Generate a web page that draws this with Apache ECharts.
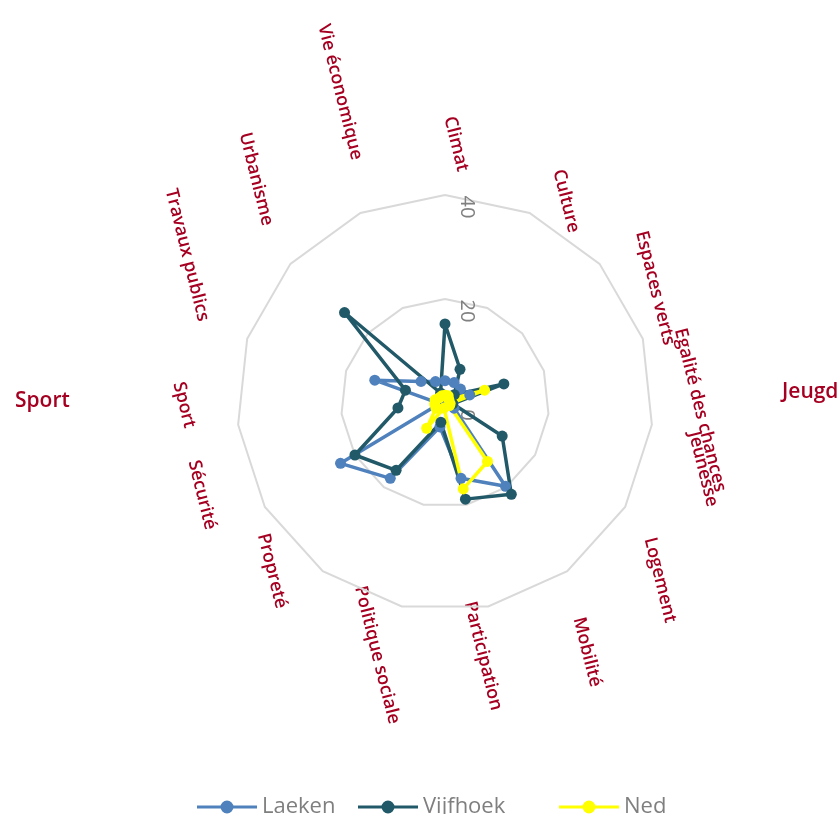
<!DOCTYPE html>
<html>
<head>
<meta charset="utf-8">
<script src="https://cdn.jsdelivr.net/npm/echarts@6/dist/echarts.min.js"></script>
<style>
  html, body { margin: 0; padding: 0; background: #fff; }
  #chart { width: 840px; height: 814px; }
</style>
</head>
<body>
<div id="chart"></div>
<script>
// categories, clockwise from the top
var categories = ['Climat', 'Culture', 'Espaces verts', 'Egalité des chances', 'Jeunesse',
  'Logement', 'Mobilité', 'Participation', 'Politique sociale', 'Propreté',
  'Sécurité', 'Sport', 'Travaux publics', 'Urbanisme', 'Vie économique'];

var laeken   = [4.3, 4.3, 4, 5, 1.5, 2, 19.8, 14.8, 4.7, 17.9, 23.2, 1, 14.2, 6.2, 4.5];
var vijfhoek = [15.2, 7.1, 2.4, 11.9, 1.5, 12.7, 21.7, 18.9, 3.8, 16, 20, 9.1, 8, 26, 2.1];
var ned      = [1.5, 1.5, 1, 8, 1, 1, 13.9, 16.9, 1, 6, 2, 2, 2, 1.5, 1.5];

var seriesNames = ['Laeken', 'Vijfhoek', 'Ned'];
var axisMin = 0, axisMax = 40, axisStep = 20;

// label centres on the page (rotated text)
var labelPos = [
  [456, 144], [566, 201], [655, 288], [700, 410], [703, 469],
  [660, 580], [587, 652], [483, 656], [377, 655], [272, 571],
  [202, 495], [184, 405], [187, 255], [256, 179], [340, 92]
];

var colors = ['#4f81bd', '#215968', '#ffff00'];
var labelColor = '#a50021';
var cx = 445, cy = 403, R = 208;

// echarts radar runs counter-clockwise, so reverse all but the first
var order = [0];
for (var i = categories.length - 1; i > 0; i--) order.push(i);
function reorder(arr) { return order.map(function (k) { return arr[k]; }); }

var chart = echarts.init(document.getElementById('chart'));

var legendIcon = 'path://M0,5.5H60V8.5H0Z M23.5,7A6.5,6.5 0 1,1 36.5,7A6.5,6.5 0 1,1 23.5,7Z';
var legendLeft = [192, 353, 554];

var graphics = categories.map(function (c, i) {
  return {
    type: 'text',
    x: labelPos[i][0],
    y: labelPos[i][1],
    rotation: -76 * Math.PI / 180,
    silent: true,
    style: {
      text: c,
      fill: labelColor,
      font: '600 18px "Open Sans"',
      align: 'center', verticalAlign: 'middle',
      textAlign: 'center', textVerticalAlign: 'middle'
    }
  };
});
graphics.push({
  type: 'text', x: 15, y: 401, silent: true,
  style: { text: 'Sport', fill: labelColor, font: '600 21px "Open Sans"',
    align: 'left', verticalAlign: 'middle', textAlign: 'left', textVerticalAlign: 'middle' }
});
graphics.push({
  type: 'text', x: 782, y: 392, silent: true,
  style: { text: 'Jeugd', fill: labelColor, font: '600 21px "Open Sans"',
    align: 'left', verticalAlign: 'middle', textAlign: 'left', textVerticalAlign: 'middle' }
});

var option = {
  backgroundColor: '#fff',
  animation: false,
  textStyle: { fontFamily: 'Open Sans' },
  legend: seriesNames.map(function (n, i) {
    return {
      data: [n],
      left: legendLeft[i],
      top: 791,
      icon: legendIcon,
      itemWidth: 60,
      itemHeight: 13,
      selectedMode: false,
      textStyle: { color: '#7f7f7f', fontSize: 22, fontFamily: 'Open Sans' }
    };
  }),
  polar: { center: [cx, cy], radius: R },
  angleAxis: {
    startAngle: 90, min: 0, max: 360,
    axisLine: { show: false }, axisTick: { show: false },
    axisLabel: { show: false }, splitLine: { show: false }
  },
  radiusAxis: {
    min: axisMin, max: axisMax, interval: axisStep,
    axisLine: { show: false }, axisTick: { show: false }, splitLine: { show: false },
    axisLabel: { inside: true, rotate: -90, color: '#808080', fontSize: 20, fontFamily: 'Open Sans',
      margin: -32, padding: [0, 0, 0, 24] }
  },
  radar: {
    center: [cx, cy],
    radius: R,
    startAngle: 90,
    shape: 'polygon',
    splitNumber: 2,
    indicator: reorder(categories).map(function (c) { return { name: c, min: axisMin, max: axisMax }; }),
    axisName: { show: false },
    axisLine: { show: false },
    axisTick: { show: false },
    axisLabel: { show: false },
    splitArea: { show: false },
    splitLine: { lineStyle: { color: '#d9d9d9', width: 2 } }
  },
  graphic: graphics,
  series: [laeken, vijfhoek, ned].map(function (vals, i) {
    return {
      type: 'radar',
      name: seriesNames[i],
      symbol: 'circle',
      symbolSize: 11,
      itemStyle: { color: colors[i] },
      lineStyle: { color: colors[i], width: 3.5 },
      data: [{ name: seriesNames[i], value: reorder(vals) }]
    };
  })
};

chart.setOption(option);
</script>
</body>
</html>
